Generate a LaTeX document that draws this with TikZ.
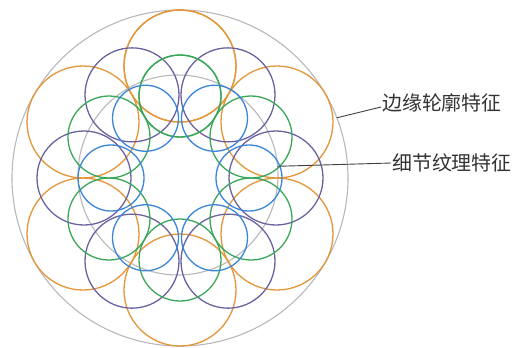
\documentclass[tikz,border=0pt]{standalone}
\usepackage{fontspec}
\usetikzlibrary{calc}
\newfontfamily\cjk{Noto Sans CJK SC}
\definecolor{cOrange}{HTML}{E3963A}
\definecolor{cPurple}{HTML}{6A62A0}
\definecolor{cGreen}{HTML}{3AA758}
\definecolor{cBlue}{HTML}{3A85D8}
\definecolor{cGrey}{HTML}{B8B8BC}
\tikzset{
  ring/.style={draw=cGrey, line width=1.1bp, circle, inner sep=0pt, outer sep=0pt},
  petal/.style={line width=1.3bp},
  lbl/.style={font=\cjk\fontsize{20}{20}\selectfont, text=black!80, inner sep=1bp, anchor=west},
  leader/.style={draw=black!75, line width=0.9bp}
}
\begin{document}
\begin{tikzpicture}[x=1bp,y=-1bp]
\useasboundingbox (0,0) rectangle (526,347);
\coordinate (c) at (180,178);
\node[ring, minimum size=336bp] (outer) at (c) {};
\node[ring, minimum size=200bp] (inner) at (178,175) {};
\foreach \a in {90,150,...,450}{
  \draw[petal, cOrange] ($(c)+(\a:112bp)$) circle[radius=56bp];
}
\foreach \a in {0,60,...,300}{
  \draw[petal, cPurple] ($(c)+(\a:96bp)$) circle[radius=47bp];
}
\foreach \a in {90,150,...,450}{
  \draw[petal, cGreen] ($(c)+(\a:82bp)$) circle[radius=41bp];
}
\foreach \a in {0,60,...,300}{
  \draw[petal, cBlue] ($(c)+(\a:69bp)$) circle[radius=33bp];
}
\node[lbl] (t1) at (381,103) {边缘轮廓特征};
\node[lbl] (t2) at (391,163) {细节纹理特征};
\draw[leader] (outer.21) -- ([yshift=-4bp]t1.west);
\draw[leader] (inner.5) -- (t2.west);
\end{tikzpicture}
\end{document}
